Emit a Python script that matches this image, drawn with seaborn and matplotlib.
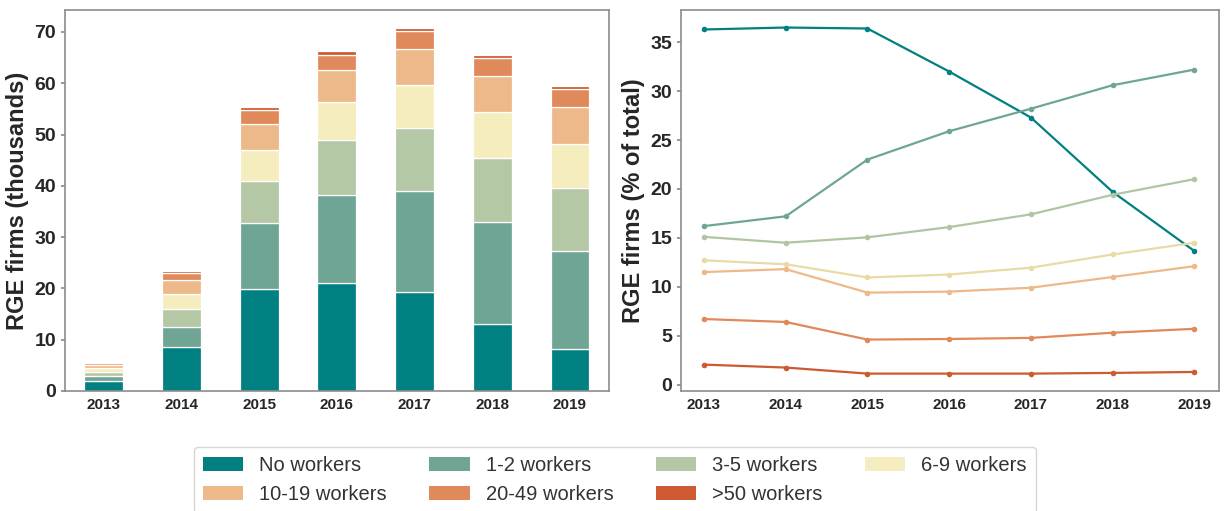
import matplotlib
matplotlib.use("Agg")
import matplotlib.pyplot as plt
import seaborn as sns
import pandas as pd
from matplotlib.patches import Patch

years = ["2013", "2014", "2015", "2016", "2017", "2018", "2019"]
categories = ["No workers", "1-2 workers", "3-5 workers", "6-9 workers",
              "10-19 workers", "20-49 workers", ">50 workers"]
colors = ["#008080", "#6fa595", "#b5c8a6", "#f5edbd", "#eeb98a", "#e0895b", "#cd5a30"]
line_colors = ["#008080", "#6fa595", "#b0c6a2", "#e9dba6", "#eeb98a", "#e0895b", "#cd5a30"]

# Firms by size class (thousands)
no_workers = [2.0, 8.5, 19.9, 21.1, 19.3, 13.0, 8.1]
w_1_2 = [0.9, 4.0, 12.9, 17.2, 19.7, 20.0, 19.2]
w_3_5 = [0.8, 3.4, 8.1, 10.6, 12.3, 12.4, 12.3]
w_6_9 = [0.7, 3.0, 6.1, 7.4, 8.4, 8.9, 8.6]
w_10_19 = [0.6, 2.7, 5.1, 6.2, 6.9, 7.1, 7.2]
w_20_49 = [0.4, 1.4, 2.6, 3.0, 3.5, 3.5, 3.4]
w_50 = [0.1, 0.4, 0.6, 0.7, 0.6, 0.6, 0.6]
counts = [no_workers, w_1_2, w_3_5, w_6_9, w_10_19, w_20_49, w_50]

# Share of total (%)
pct_no = [36.3, 36.5, 36.4, 32.0, 27.3, 19.7, 13.65]
pct_1_2 = [16.2, 17.2, 23.0, 25.9, 28.2, 30.6, 32.2]
pct_3_5 = [15.1, 14.5, 15.05, 16.1, 17.4, 19.4, 21.0]
pct_6_9 = [12.7, 12.3, 10.95, 11.25, 11.95, 13.3, 14.5]
pct_10_19 = [11.5, 11.8, 9.4, 9.5, 9.9, 11.0, 12.1]
pct_20_49 = [6.7, 6.4, 4.6, 4.66, 4.77, 5.3, 5.7]
pct_50 = [2.04, 1.74, 1.12, 1.12, 1.12, 1.19, 1.29]
pcts = [pct_no, pct_1_2, pct_3_5, pct_6_9, pct_10_19, pct_20_49, pct_50]

sns.set_theme(style="ticks")
plt.rcParams["font.family"] = ["Liberation Sans", "DejaVu Sans"]
text_c = "#262626"
spine_c = "#8c8c8c"

fig = plt.figure(figsize=(12.25, 5.11), dpi=100)
ax1 = fig.add_axes([0.053, 0.235, 0.444, 0.745])
ax2 = fig.add_axes([0.556, 0.235, 0.439, 0.745])

# Stacked bars
bottom = [0.0] * len(years)
for cat, vals, col in zip(categories, counts, colors):
    df = pd.DataFrame({"year": years, "val": vals})
    sns.barplot(data=df, x="year", y="val", color=col, bottom=bottom,
                width=0.5, edgecolor="white", linewidth=0.9, ax=ax1,
                saturation=1)
    bottom = [b + v for b, v in zip(bottom, vals)]
ax1.set_xlabel("")
ax1.set_ylabel("RGE firms (thousands)", fontsize=17, fontweight="bold", color=text_c)
ax1.set_yticks([0, 10, 20, 30, 40, 50, 60, 70])

# Lines
long = []
for cat, vals in zip(categories, pcts):
    for y, v in zip(years, vals):
        long.append({"year": int(y), "pct": v, "cat": cat})
ldf = pd.DataFrame(long)
sns.lineplot(data=ldf, x="year", y="pct", hue="cat", hue_order=categories,
             palette=line_colors, marker="o", markersize=4, markeredgewidth=0,
             linewidth=1.6, legend=False, ax=ax2)
ax2.set_xlabel("")
ax2.set_ylabel("RGE firms (% of total)", fontsize=17, fontweight="bold", color=text_c)
ax2.set_xticks([int(y) for y in years])
ax2.set_xticklabels(years)
ax2.set_xlim(2012.72, 2019.3)
ax2.set_yticks([0, 5, 10, 15, 20, 25, 30, 35])

for ax in (ax1, ax2):
    for s in ax.spines.values():
        s.set_visible(True)
        s.set_color(spine_c)
        s.set_linewidth(1.2)
    ax.tick_params(axis="y", labelsize=14, colors=spine_c, labelcolor=text_c, length=3)
    ax.tick_params(axis="x", labelsize=11, colors=spine_c, labelcolor=text_c, length=0, pad=5)
    for lab in ax.get_xticklabels() + ax.get_yticklabels():
        lab.set_fontweight("bold")

handles = [Patch(facecolor=c, edgecolor="none", label=l) for c, l in zip(colors, categories)]
# matplotlib fills legend columns first; reorder so rows read left-to-right
order = [0, 4, 1, 5, 2, 6, 3]
handles = [handles[i] for i in order]
fig.legend(handles=handles, loc="upper center", bbox_to_anchor=(0.502, 1 - 447 / 511),
           borderaxespad=0.0,
           ncol=4, fontsize=14.5, frameon=True, handlelength=2.0, handleheight=0.75,
           handletextpad=0.8, columnspacing=2.1, labelcolor="#333333", edgecolor="#cccccc",
           borderpad=0.45, labelspacing=0.5)

fig.savefig("out.png", dpi=100)
